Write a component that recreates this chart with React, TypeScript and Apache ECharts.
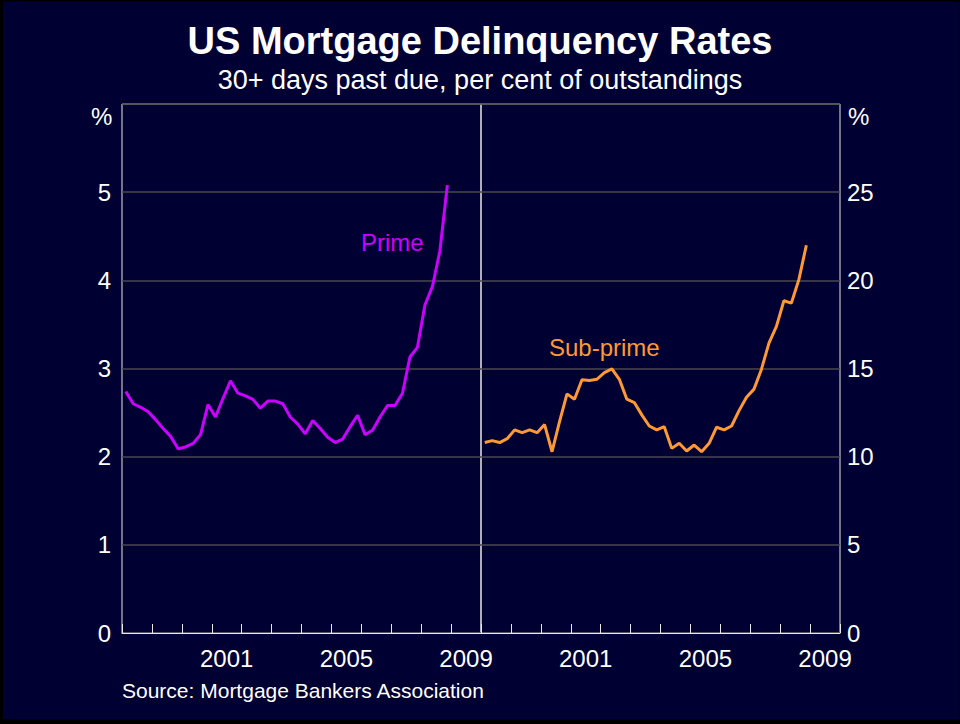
import React, { useEffect, useRef } from "react";
import * as echarts from "echarts";

const START_YEAR = 1998;
const END_YEAR = 2010;
const LABEL_YEARS = [2001, 2005, 2009];

// Quarterly, 1998 Q1 to 2008 Q4
const primeRates = [
  2.74, 2.6, 2.56, 2.51, 2.42, 2.32, 2.23, 2.09, 2.11, 2.15, 2.25,
  2.59, 2.45, 2.66, 2.86, 2.72, 2.69, 2.65, 2.55, 2.63, 2.63, 2.6,
  2.45, 2.37, 2.26, 2.41, 2.32, 2.22, 2.16, 2.2, 2.34, 2.47, 2.25,
  2.3, 2.45, 2.58, 2.58, 2.72, 3.13, 3.24, 3.72, 3.93, 4.33, 5.08,
];
const subprimeRates = [
  10.8, 10.91, 10.8, 11.02, 11.52, 11.36, 11.52, 11.36, 11.82, 10.28, 11.99,
  13.56, 13.26, 14.36, 14.32, 14.39, 14.77, 14.98, 14.39, 13.26, 13.07, 12.37,
  11.74, 11.52, 11.7, 10.47, 10.76, 10.32, 10.66, 10.28, 10.76, 11.67, 11.52,
  11.74, 12.61, 13.37, 13.83, 14.96, 16.44, 17.39, 18.84, 18.71, 20.04, 21.99,
];

const FONT = "'Liberation Sans', Arial, sans-serif";
const WHITE = "#ffffff";
const FRAME = "#e8e8e8";
const GRIDLINE = "#4a4a4a";
const PRIME_COLOR = "#cc00ff";
const SUB_COLOR = "#ff9933";

const toPoints = (vals: number[]) =>
  vals.map((v, i) => [START_YEAR + (i + 0.5) / 4, v]);

export default function App() {
  const ref = useRef<HTMLDivElement>(null);

  useEffect(() => {
    if (!ref.current) return;
    const chart = echarts.init(ref.current, undefined, { renderer: "svg" });

    const tickAxis = (gridIndex: number) => ({
      type: "value",
      gridIndex,
      position: "bottom",
      min: START_YEAR,
      max: END_YEAR,
      interval: 1,
      axisLine: { show: true, onZero: false, lineStyle: { color: FRAME, width: 1 } },
      axisTick: { show: true, inside: true, length: 9, lineStyle: { color: FRAME, width: 1 } },
      axisLabel: { show: false },
      splitLine: { show: false },
    });
    const labelAxis = (gridIndex: number) => ({
      type: "value",
      gridIndex,
      position: "bottom",
      offset: 0,
      min: START_YEAR,
      max: END_YEAR,
      interval: 0.5,
      axisLine: { show: false, onZero: false },
      axisTick: { show: false },
      splitLine: { show: false },
      axisLabel: {
        show: true,
        color: WHITE,
        fontSize: 24,
        fontFamily: FONT,
        margin: 13,
        showMinLabel: true,
        showMaxLabel: true,
        formatter: (v: number) =>
          LABEL_YEARS.indexOf(v - 0.5) >= 0 ? String(v - 0.5) : "",
      },
    });

    const option: any = {
      animation: false,
      backgroundColor: "transparent",
      textStyle: { fontFamily: FONT },
      title: [
        {
          text: "US Mortgage Delinquency Rates",
          left: "center",
          top: 17,
          textStyle: { color: WHITE, fontSize: 38, fontWeight: "bold", fontFamily: FONT },
        },
        {
          text: "30+ days past due, per cent of outstandings",
          left: "center",
          top: 61,
          textStyle: { color: WHITE, fontSize: 27, fontWeight: "normal", fontFamily: FONT },
        },
      ],
      grid: [
        { left: 122, top: 104, width: 359, height: 529, show: true, borderColor: FRAME, borderWidth: 1, backgroundColor: "transparent" },
        { left: 481, top: 104, width: 359, height: 529, show: true, borderColor: FRAME, borderWidth: 1, backgroundColor: "transparent" },
      ],
      xAxis: [tickAxis(0), labelAxis(0), tickAxis(1), labelAxis(1)],
      yAxis: [
        {
          type: "value",
          gridIndex: 0,
          min: 0,
          max: 6,
          interval: 1,
          axisLine: { show: false },
          axisTick: { show: false },
          axisLabel: {
            color: WHITE,
            fontSize: 24,
            fontFamily: FONT,
            margin: 11,
            formatter: (v: number) => (v === 6 ? "" : String(v)),
          },
          splitLine: { show: true, lineStyle: { color: GRIDLINE, width: 1.5 } },
        },
        {
          type: "value",
          gridIndex: 1,
          position: "right",
          min: 0,
          max: 30,
          interval: 5,
          axisLine: { show: false },
          axisTick: { show: false },
          axisLabel: {
            color: WHITE,
            fontSize: 24,
            fontFamily: FONT,
            margin: 7,
            formatter: (v: number) => (v === 30 ? "" : String(v)),
          },
          splitLine: { show: true, lineStyle: { color: GRIDLINE, width: 1.5 } },
        },
      ],
      series: [
        {
          name: "Prime",
          type: "line",
          xAxisIndex: 0,
          yAxisIndex: 0,
          data: toPoints(primeRates),
          showSymbol: false,
          symbol: "none",
          lineStyle: { color: PRIME_COLOR, width: 3 },
          z: 5,
        },
        {
          name: "Sub-prime",
          type: "line",
          xAxisIndex: 2,
          yAxisIndex: 1,
          data: toPoints(subprimeRates),
          showSymbol: false,
          symbol: "none",
          lineStyle: { color: SUB_COLOR, width: 3 },
          z: 5,
        },
      ],
      graphic: [
        {
          type: "text",
          left: 91,
          top: 104,
          style: { text: "%", fill: WHITE, font: `24px ${FONT}` },
        },
        {
          type: "text",
          left: 848,
          top: 104,
          style: { text: "%", fill: WHITE, font: `24px ${FONT}` },
        },
        {
          type: "text",
          left: 361,
          top: 230,
          style: { text: "Prime", fill: PRIME_COLOR, font: `24px ${FONT}` },
        },
        {
          type: "text",
          left: 549,
          top: 335,
          style: { text: "Sub-prime", fill: SUB_COLOR, font: `24px ${FONT}` },
        },
        {
          type: "text",
          left: 122,
          top: 680,
          style: { text: "Source: Mortgage Bankers Association", fill: WHITE, font: `21px ${FONT}` },
        },
      ],
    };

    chart.setOption(option);
    return () => chart.dispose();
  }, []);

  return (
    <div style={{ position: "fixed", left: 0, top: 0, width: 960, height: 724, background: "#000000" }}>
      <div style={{ position: "absolute", left: 3, top: 2, width: 956, height: 717, background: "#000033" }} />
      <div ref={ref} style={{ position: "absolute", left: 0, top: 0, width: 960, height: 724 }} />
    </div>
  );
}
